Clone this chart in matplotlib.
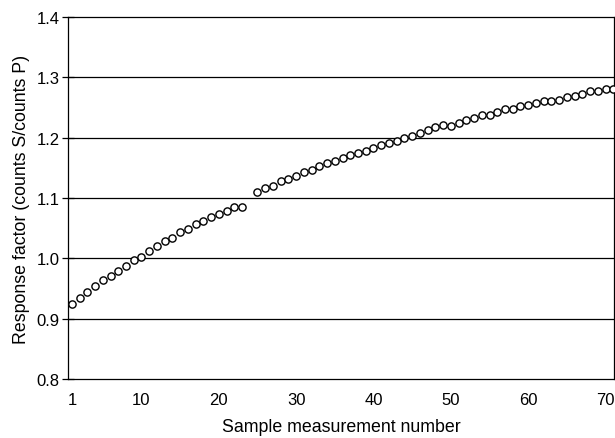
import matplotlib
matplotlib.use("Agg")
import matplotlib.pyplot as plt

plt.rcParams['font.family'] = ['Liberation Sans', 'DejaVu Sans']

# measurement numbers (no point at 24)
x_part1 = list(range(1, 24))
x_part2 = list(range(25, 72))

# response factor values
y_part1 = [0.925, 0.935, 0.944, 0.955, 0.964, 0.971, 0.980, 0.987, 0.997, 1.003,
           1.013, 1.020, 1.029, 1.034, 1.043, 1.049, 1.057, 1.062, 1.068, 1.073,
           1.079, 1.085, 1.086]
y_part2 = [1.110, 1.116, 1.120, 1.129, 1.132, 1.136, 1.143, 1.147, 1.153, 1.158,
           1.161, 1.166, 1.172, 1.175, 1.178, 1.183, 1.188, 1.192, 1.195, 1.199,
           1.203, 1.208, 1.212, 1.217, 1.221, 1.219, 1.224, 1.229, 1.233, 1.237,
           1.238, 1.242, 1.247, 1.248, 1.252, 1.255, 1.258, 1.261, 1.261, 1.263,
           1.267, 1.269, 1.273, 1.277, 1.278, 1.280, 1.281]

x_ticks = [1, 10, 20, 30, 40, 50, 60, 70]
y_ticks = [0.8, 0.9, 1.0, 1.1, 1.2, 1.3, 1.4]

fig = plt.figure(figsize=(6.15, 4.39), dpi=100)
ax = fig.add_axes([0.1106, 0.134, 0.8878, 0.825])

xs = x_part1 + x_part2
ys = y_part1 + y_part2
ax.plot(xs, ys, linestyle='none', marker='o', markersize=5.2,
        markerfacecolor='white', markeredgecolor='black', markeredgewidth=1.0,
        clip_on=False, zorder=3)

ax.set_xlim(0.5, 71.1)
ax.set_ylim(0.8, 1.4)
ax.set_xticks(x_ticks)
ax.set_yticks(y_ticks)
ax.set_yticklabels([f"{v:.1f}" for v in y_ticks])

# horizontal grid lines
for v in y_ticks[1:-1]:
    ax.axhline(v, color='black', linewidth=0.9, zorder=1)

for s in ax.spines.values():
    s.set_linewidth(0.9)
    s.set_color('black')

ax.tick_params(axis='y', direction='inout', length=8, width=0.9, labelsize=12, pad=2)
ax.tick_params(axis='x', length=0, labelsize=12, pad=9)

ax.set_xlabel("Sample measurement number", fontsize=12.8, labelpad=8)
ax.set_ylabel("Response factor (counts S/counts P)", fontsize=12.8, labelpad=5)

fig.savefig("out.png", dpi=100)
